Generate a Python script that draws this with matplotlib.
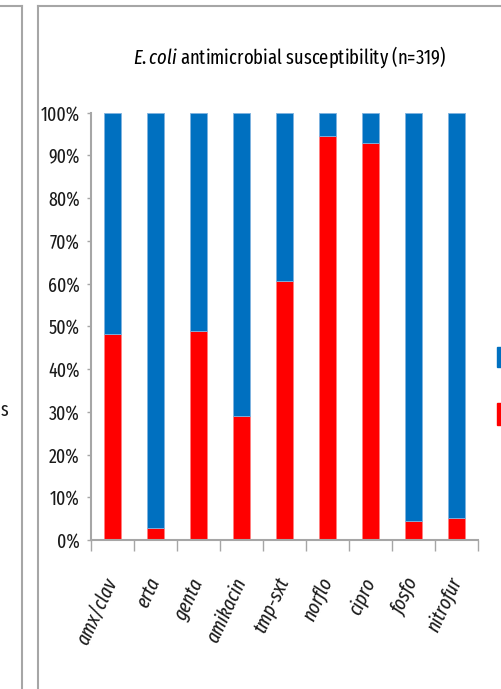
import matplotlib
matplotlib.use("Agg")
import matplotlib.pyplot as plt
from matplotlib.lines import Line2D
from matplotlib.patches import Rectangle
import numpy as np

FONT = 'Fira Sans Extra Condensed'
plt.rcParams['font.family'] = [FONT, 'DejaVu Sans']
plt.rcParams['mathtext.fontset'] = 'custom'
plt.rcParams['mathtext.it'] = FONT + ':italic'
plt.rcParams['mathtext.rm'] = FONT

# antibiotics and share of isolates (%), red = resistant, blue = the rest
drugs = ['amx/clav', 'erta', 'genta', 'amikacin', 'tmp-sxt', 'norflo', 'cipro', 'fosfo', 'nitrofur']
resistant = [48.2, 2.9, 48.8, 29.1, 60.5, 94.6, 92.9, 4.5, 5.2]
susceptible = [100 - r for r in resistant]

BLUE = '#0070C0'
RED = '#FF0000'
GRAY = '#A6A6A6'

fig = plt.figure(figsize=(5.01, 6.89), dpi=100)
ax = fig.add_axes([0.1816, 0.2163, 0.7724, 0.6201])

x = np.arange(len(drugs))
ax.bar(x, resistant, width=0.39, color=RED, edgecolor='#FF8080', linewidth=0.6)
ax.bar(x, susceptible, width=0.39, bottom=resistant, color=BLUE, edgecolor='#7FB3DF', linewidth=0.6)

ax.set_xlim(-0.5, len(drugs) - 0.5)
ax.set_ylim(0, 100)

# Excel-like axes: ticks between categories, labels at the centres
ax.set_xticks(np.arange(-0.5, len(drugs)), labels=[''] * (len(drugs) + 1))
ax.set_xticks(x, labels=drugs, minor=True)
ax.tick_params(axis='x', which='major', direction='out', length=8, width=1, color=GRAY)
ax.tick_params(axis='x', which='minor', length=0, pad=28, labelsize=14.5, labelcolor='#1a1a1a')
for lab in ax.get_xticklabels(minor=True):
    lab.set_rotation(65)
    lab.set_ha('right')
    lab.set_va('center')
    lab.set_rotation_mode('anchor')
    lab.set_style('italic')

yt = np.arange(0, 101, 10)
ax.set_yticks(yt, labels=[f'{v}%' for v in yt])
ax.tick_params(axis='y', direction='out', length=3, width=1, color=GRAY, labelsize=14,
               labelcolor='#1a1a1a', pad=5)

for s in ['top', 'right']:
    ax.spines[s].set_visible(False)
for s in ['left', 'bottom']:
    ax.spines[s].set_color(GRAY)
    ax.spines[s].set_linewidth(1.5)

fig.text(0.579, 0.917, r'$\mathit{E.coli}$ antimicrobial susceptibility (n=319)',
         ha='center', va='center', fontsize=14.5, color='#000000')

# chart frames (edge of the neighbouring chart and this one)
W, H = 501, 689
fig.add_artist(Line2D([0, 22 / W], [1 - 6 / H, 1 - 6 / H], color=GRAY, lw=1.5))
fig.add_artist(Line2D([22 / W, 22 / W], [0, 1 - 6 / H], color=GRAY, lw=1.5))
fig.add_artist(Line2D([38 / W, 1], [1 - 6 / H, 1 - 6 / H], color=GRAY, lw=1.5))
fig.add_artist(Line2D([38 / W, 38 / W], [0, 1 - 6 / H], color=GRAY, lw=1.5))
fig.text(0.5 / W, 1 - 410 / H, 's', ha='left', va='center', fontsize=14, color='#1a1a1a')

# legend keys, cut off by the right edge
fig.add_artist(Rectangle((497 / W, 1 - 367 / H), 10 / W, 20 / H, color=BLUE))
fig.add_artist(Rectangle((497 / W, 1 - 425 / H), 10 / W, 22 / H, color=RED))

fig.savefig('out.png', dpi=100)
